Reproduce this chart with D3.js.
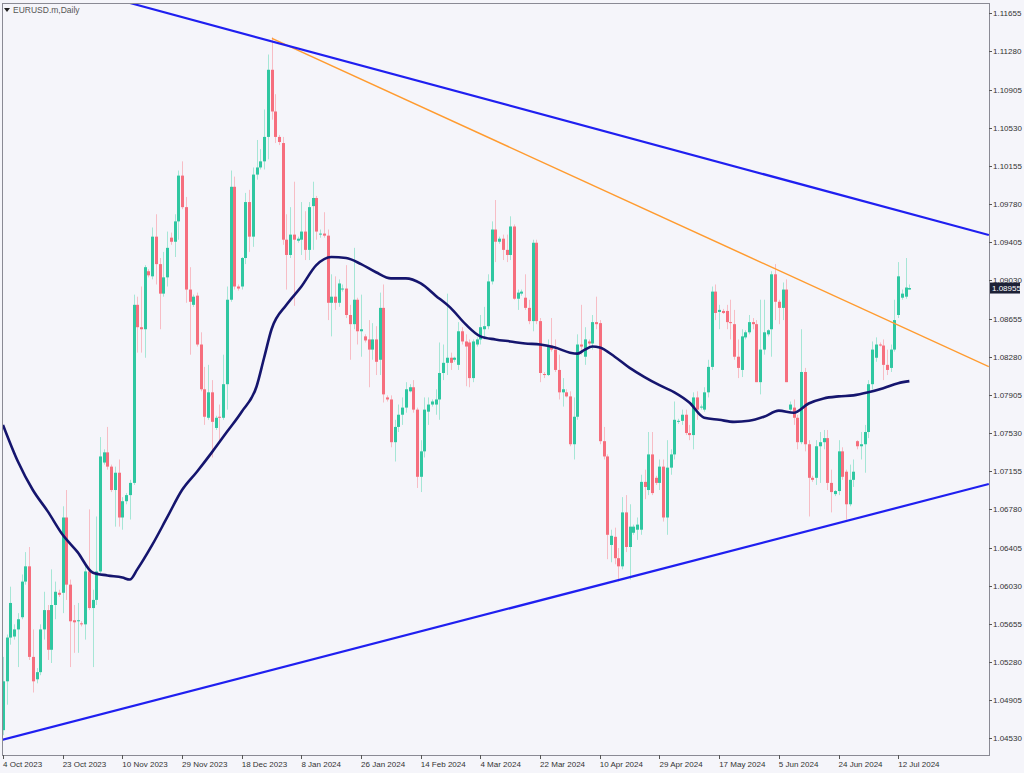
<!DOCTYPE html>
<html><head><meta charset="utf-8">
<script src="https://cdn.jsdelivr.net/npm/d3@7"></script>
<style>html,body{margin:0;padding:0;background:#f5f5fa;}svg{display:block}</style>
</head><body>
<svg id="chart" width="1024" height="773"></svg>
<script>
// ---- Data ----
const opens=[1.0461,1.0509,1.0552,1.0553,1.0560,1.0572,1.0607,1.0622,1.0533,1.0511,
1.0518,1.0560,1.0579,1.0540,1.0584,1.0596,1.0596,1.0670,1.0604,1.0569,
1.0568,1.0566,1.0565,1.0617,1.0581,1.0589,1.0617,1.0724,1.0734,1.0720,
1.0697,1.0714,1.0670,1.0686,1.0692,1.0704,1.0879,1.0857,1.0855,1.0912,
1.0907,1.0946,1.0919,1.0890,1.0906,1.0945,1.0941,1.0961,1.1006,1.0975,
1.0894,1.0879,1.0888,1.0840,1.0796,1.0768,1.0793,1.0758,1.0769,1.0768,
1.0801,1.0884,1.0995,1.0897,1.0897,1.0925,1.0980,1.0946,1.1007,1.1014,
1.1020,1.1044,1.1110,1.1069,1.1044,1.1038,1.0943,1.0928,1.0948,1.0942,
1.0943,1.0951,1.0933,1.0976,1.0984,1.0949,1.0949,1.0947,1.0881,1.0887,
1.0881,1.0895,1.0895,1.0869,1.0860,1.0884,1.0853,1.0848,1.0845,1.0835,
1.0845,1.0825,1.0876,1.0788,1.0786,1.0744,1.0759,1.0771,1.0778,1.0794,
1.0798,1.0776,1.0710,1.0735,1.0774,1.0781,1.0781,1.0786,1.0812,1.0822,
1.0827,1.0825,1.0820,1.0853,1.0843,1.0842,1.0807,1.0840,1.0845,1.0855,
1.0858,1.0902,1.0953,1.0941,1.0944,1.0933,1.0928,1.0956,1.0885,1.0890,
1.0886,1.0876,1.0863,1.0940,1.0863,1.0811,1.0810,1.0839,1.0835,1.0815,
1.0793,1.0793,1.0789,1.0742,1.0769,1.0840,1.0828,1.0843,1.0841,1.0862,
1.0861,1.0745,1.0730,1.0643,1.0651,1.0630,1.0622,1.0675,1.0641,1.0655,
1.0658,1.0658,1.0705,1.0697,1.0732,1.0709,1.0704,1.0720,1.0670,1.0719,
1.0732,1.0764,1.0765,1.0771,1.0753,1.0751,1.0788,1.0778,1.0776,1.0793,
1.0818,1.0892,1.0872,1.0873,1.0873,1.0862,1.0860,1.0828,1.0815,1.0847,
1.0852,1.0862,1.0860,1.0803,1.0835,1.0850,1.0855,1.0909,1.0882,1.0876,
1.0894,1.0776,1.0778,1.0768,1.0744,1.0813,1.0742,1.0709,1.0709,1.0740,
1.0744,1.0748,1.0704,1.0693,1.0696,1.0735,1.0715,1.0683,1.0707,1.0745,
1.0740,1.0742,1.0754,1.0801,1.0827,1.0840,1.0839,1.0820,1.0817,1.0835,
1.0869,1.0886,1.0887,1.0894];
const highs=[1.0533,1.0555,1.0602,1.0565,1.0576,1.0614,1.0636,1.0641,1.0560,1.0522,
1.0565,1.0597,1.0584,1.0619,1.0607,1.0599,1.0681,1.0697,1.0609,1.0584,
1.0586,1.0568,1.0622,1.0678,1.0599,1.0671,1.0749,1.0737,1.0759,1.0722,
1.0720,1.0727,1.0690,1.0694,1.0707,1.0889,1.0887,1.0897,1.0918,1.0914,
1.0955,1.0968,1.0925,1.0931,1.0951,1.0950,1.0968,1.1011,1.1020,1.0985,
1.0916,1.0889,1.0891,1.0852,1.0818,1.0820,1.0805,1.0770,1.0781,1.0830,
1.0897,1.1011,1.1005,1.0899,1.0926,1.0989,1.0992,1.1014,1.1041,1.1032,
1.1071,1.1125,1.1142,1.1086,1.1046,1.1044,1.0968,1.0975,1.1000,1.0946,
1.0980,1.0971,1.0980,1.1000,1.0986,1.0953,1.0970,1.0953,1.0909,1.0907,
1.0904,1.0899,1.0918,1.0879,1.0935,1.0886,1.0889,1.0850,1.0864,1.0861,
1.0858,1.0891,1.0899,1.0790,1.0790,1.0766,1.0781,1.0788,1.0803,1.0801,
1.0805,1.0778,1.0746,1.0788,1.0788,1.0786,1.0796,1.0842,1.0840,1.0890,
1.0832,1.0828,1.0862,1.0857,1.0850,1.0845,1.0845,1.0847,1.0869,1.0877,
1.0909,1.0961,1.0982,1.0946,1.0948,1.0948,1.0966,1.0958,1.0894,1.0894,
1.0909,1.0884,1.0943,1.0943,1.0866,1.0813,1.0845,1.0866,1.0845,1.0830,
1.0807,1.0796,1.0794,1.0788,1.0850,1.0879,1.0857,1.0845,1.0869,1.0887,
1.0864,1.0759,1.0732,1.0658,1.0660,1.0640,1.0690,1.0692,1.0683,1.0663,
1.0670,1.0712,1.0717,1.0754,1.0754,1.0711,1.0727,1.0727,1.0746,1.0737,
1.0784,1.0767,1.0776,1.0776,1.0761,1.0793,1.0794,1.0781,1.0798,1.0825,
1.0897,1.0899,1.0879,1.0875,1.0879,1.0884,1.0874,1.0845,1.0855,1.0854,
1.0869,1.0866,1.0864,1.0884,1.0884,1.0855,1.0912,1.0919,1.0884,1.0901,
1.0904,1.0784,1.0786,1.0771,1.0855,1.0817,1.0746,1.0711,1.0746,1.0754,
1.0756,1.0756,1.0717,1.0697,1.0746,1.0739,1.0717,1.0722,1.0727,1.0746,
1.0754,1.0761,1.0805,1.0843,1.0847,1.0842,1.0845,1.0835,1.0840,1.0884,
1.0921,1.0894,1.0925,1.0899];
const lows=[1.0456,1.0486,1.0545,1.0550,1.0523,1.0570,1.0604,1.0530,1.0498,1.0507,
1.0515,1.0550,1.0530,1.0527,1.0570,1.0592,1.0576,1.0589,1.0523,1.0537,
1.0537,1.0563,1.0550,1.0579,1.0523,1.0584,1.0614,1.0722,1.0717,1.0695,
1.0661,1.0661,1.0658,1.0683,1.0668,1.0702,1.0832,1.0832,1.0827,1.0906,
1.0904,1.0899,1.0855,1.0887,1.0897,1.0938,1.0926,1.0943,1.0973,1.0881,
1.0830,1.0877,1.0838,1.0794,1.0761,1.0766,1.0729,1.0756,1.0744,1.0766,
1.0776,1.0882,1.0894,1.0893,1.0894,1.0919,1.0931,1.0936,1.1002,1.1012,
1.1012,1.1022,1.1061,1.1038,1.1036,1.0938,1.0894,1.0925,1.0878,1.0940,
1.0928,1.0923,1.0923,1.0933,1.0943,1.0945,1.0945,1.0864,1.0848,1.0874,
1.0877,1.0892,1.0866,1.0825,1.0855,1.0840,1.0828,1.0842,1.0798,1.0825,
1.0810,1.0810,1.0783,1.0784,1.0739,1.0725,1.0754,1.0761,1.0773,1.0793,
1.0773,1.0699,1.0695,1.0729,1.0761,1.0779,1.0771,1.0766,1.0805,1.0810,
1.0815,1.0823,1.0815,1.0840,1.0799,1.0798,1.0803,1.0838,1.0840,1.0845,
1.0855,1.0899,1.0921,1.0939,1.0923,1.0921,1.0923,1.0884,1.0874,1.0888,
1.0874,1.0860,1.0853,1.0860,1.0803,1.0807,1.0809,1.0833,1.0813,1.0786,
1.0779,1.0788,1.0740,1.0727,1.0766,1.0830,1.0820,1.0839,1.0835,1.0855,
1.0742,1.0727,1.0629,1.0626,1.0624,1.0607,1.0619,1.0636,1.0609,1.0653,
1.0648,1.0653,1.0688,1.0692,1.0692,1.0702,1.0697,1.0666,1.0653,1.0712,
1.0727,1.0762,1.0761,1.0751,1.0746,1.0737,1.0766,1.0776,1.0774,1.0788,
1.0815,1.0864,1.0855,1.0870,1.0855,1.0845,1.0825,1.0807,1.0808,1.0845,
1.0850,1.0855,1.0803,1.0791,1.0830,1.0848,1.0828,1.0864,1.0860,1.0864,
1.0803,1.0774,1.0761,1.0737,1.0742,1.0735,1.0671,1.0705,1.0702,1.0704,
1.0737,1.0697,1.0675,1.0691,1.0692,1.0707,1.0668,1.0681,1.0700,1.0737,
1.0727,1.0714,1.0748,1.0796,1.0823,1.0838,1.0805,1.0810,1.0813,1.0833,
1.0866,1.0884,1.0885,1.0894];
const closes=[1.0509,1.0552,1.0586,1.0560,1.0570,1.0607,1.0622,1.0533,1.0509,1.0518,
1.0560,1.0579,1.0540,1.0584,1.0597,1.0594,1.0670,1.0604,1.0568,1.0567,
1.0569,1.0565,1.0617,1.0581,1.0589,1.0617,1.0730,1.0734,1.0720,1.0697,
1.0714,1.0670,1.0686,1.0692,1.0704,1.0879,1.0857,1.0855,1.0916,1.0908,
1.0946,1.0919,1.0890,1.0906,1.0935,1.0941,1.0961,1.1006,1.0975,1.0894,
1.0882,1.0887,1.0840,1.0796,1.0769,1.0793,1.0764,1.0768,1.0768,1.0801,
1.0884,1.0995,1.0897,1.0895,1.0925,1.0980,1.0946,1.1007,1.1014,1.1020,
1.1044,1.1110,1.1069,1.1044,1.1039,1.0943,1.0928,1.0948,1.0943,1.0944,
1.0951,1.0933,1.0975,1.0984,1.0951,1.0949,1.0947,1.0881,1.0887,1.0881,
1.0900,1.0895,1.0869,1.0860,1.0884,1.0853,1.0855,1.0844,1.0835,1.0845,
1.0823,1.0876,1.0791,1.0786,1.0744,1.0759,1.0771,1.0778,1.0796,1.0798,
1.0776,1.0710,1.0735,1.0776,1.0781,1.0784,1.0786,1.0812,1.0822,1.0827,
1.0822,1.0827,1.0853,1.0843,1.0838,1.0807,1.0843,1.0845,1.0857,1.0858,
1.0902,1.0953,1.0941,1.0944,1.0933,1.0928,1.0956,1.0885,1.0891,1.0892,
1.0876,1.0863,1.0940,1.0863,1.0812,1.0810,1.0839,1.0835,1.0815,1.0793,
1.0796,1.0789,1.0742,1.0769,1.0840,1.0838,1.0845,1.0841,1.0862,1.0860,
1.0745,1.0730,1.0653,1.0652,1.0630,1.0622,1.0675,1.0641,1.0661,1.0661,
1.0663,1.0705,1.0700,1.0732,1.0694,1.0704,1.0720,1.0670,1.0719,1.0732,
1.0766,1.0765,1.0771,1.0753,1.0751,1.0788,1.0776,1.0779,1.0793,1.0818,
1.0892,1.0871,1.0874,1.0871,1.0862,1.0861,1.0828,1.0817,1.0848,1.0852,
1.0862,1.0860,1.0803,1.0835,1.0852,1.0854,1.0909,1.0882,1.0876,1.0894,
1.0803,1.0781,1.0768,1.0744,1.0813,1.0742,1.0709,1.0707,1.0740,1.0744,
1.0748,1.0704,1.0695,1.0696,1.0735,1.0710,1.0683,1.0707,1.0715,1.0740,
1.0742,1.0754,1.0801,1.0835,1.0840,1.0839,1.0820,1.0815,1.0835,1.0864,
1.0907,1.0890,1.0896,1.08955];

// Moving average, read at sampled bars
const maIndex=[0,4,8,12,16,20,24,28,32,34,36,40,44,48,52,56,60,64,68,70,72,76,80,84,88,92,96,100,104,108,112,116,120,124,128,132,136,140,144,148,152,154,156,158,160,164,168,172,176,180,184,188,192,196,200,204,208,212,216,220,224,228,232,236,240,243];
const maValues=[1.0761,1.0725,1.0697,1.0676,1.0653,1.0636,1.0616,1.0613,1.0611,1.0609,1.0619,1.0643,1.0670,1.0697,1.0715,1.0734,1.0754,1.0774,1.0799,1.0827,1.0855,1.0879,1.0897,1.0918,1.0926,1.0925,1.0919,1.0911,1.0905,1.0905,1.0900,1.0888,1.0876,1.0860,1.0848,1.0845,1.0843,1.0841,1.0840,1.0837,1.0832,1.0831,1.0835,1.0838,1.0837,1.0828,1.0817,1.0808,1.0800,1.0793,1.0783,1.0768,1.0766,1.0764,1.0765,1.0769,1.0775,1.0773,1.0782,1.0787,1.0789,1.0790,1.0793,1.0797,1.0802,1.0804];

// Trend lines: [barIndex, price] anchor pairs
const upperTrend=[[34.05,1.11756],[264.3,1.09476]];
const lowerTrend=[[-0.3,1.04513],[264.3,1.07029]];
const orangeTrend=[[72.1,1.11409],[264.3,1.08182]];

const priceTicks=[1.11655,1.11280,1.10905,1.10530,1.10155,1.09780,1.09405,1.09030,1.08655,1.08280,1.07905,1.07530,1.07155,1.06780,1.06405,1.06030,1.05655,1.05280,1.04905,1.04530];
const dateTickIndex=[0,16,32,48,64,80,96,112,128,144,160,176,192,208,224,240];
const dateTickLabels=["4 Oct 2023","23 Oct 2023","10 Nov 2023","29 Nov 2023","18 Dec 2023","8 Jan 2024","26 Jan 2024","14 Feb 2024","4 Mar 2024","22 Mar 2024","10 Apr 2024","29 Apr 2024","17 May 2024","5 Jun 2024","24 Jun 2024","12 Jul 2024"];
const currentPrice=1.08955;
const title="EURUSD.m,Daily";

// ---- Drawing ----
const L=2,R=989,T=3,B=755;
const svg=d3.select("#chart");
const x=d3.scaleLinear().domain([0,240]).range([3,898.2]);
const y=d3.scaleLinear().domain([1.04530,1.11655]).range([738.3,13.3]);
const font="'Liberation Sans Narrow','Liberation Sans',Arial,sans-serif";

svg.append("rect").attr("width",1024).attr("height",773).attr("fill","#f5f5fa");
svg.append("defs").append("clipPath").attr("id","plot")
  .append("rect").attr("x",L).attr("y",T).attr("width",R-L).attr("height",B-T);

const g=svg.append("g").attr("clip-path","url(#plot)");

const bars=d3.range(opens.length).map(i=>({i,o:opens[i],h:highs[i],l:lows[i],c:closes[i]}));
const up="#2fc7a1", dn="#f66e7d", upW="#a6e6d6", dnW="#f7bdc5";

g.selectAll("line.wick").data(bars).join("line").attr("class","wick")
  .attr("x1",d=>Math.round(x(d.i))+0.5).attr("x2",d=>Math.round(x(d.i))+0.5)
  .attr("y1",d=>y(d.h)).attr("y2",d=>y(d.l))
  .attr("stroke",d=>d.c>=d.o?upW:dnW).attr("stroke-width",1);

g.selectAll("rect.body").data(bars).join("rect").attr("class","body")
  .attr("x",d=>Math.round(x(d.i))-1).attr("width",3)
  .attr("y",d=>Math.min(y(d.o),y(d.c)))
  .attr("height",d=>Math.max(1,Math.abs(y(d.o)-y(d.c))))
  .attr("fill",d=>d.c>=d.o?up:dn);

// moving average
const ma=maIndex.map((k,j)=>[k,maValues[j]]);
g.append("path").datum(ma)
  .attr("d",d3.line().x(d=>x(d[0])).y(d=>y(d[1])).curve(d3.curveMonotoneX))
  .attr("fill","none").attr("stroke","#15156e").attr("stroke-width",2.6).attr("stroke-linejoin","round");

function trend(pts,color,w){
  g.append("line").attr("x1",x(pts[0][0])).attr("y1",y(pts[0][1]))
   .attr("x2",x(pts[1][0])).attr("y2",y(pts[1][1]))
   .attr("stroke",color).attr("stroke-width",w);
}
trend(orangeTrend,"#ff9b2f",1.5);
trend(upperTrend,"#1f1ff0",2.2);
trend(lowerTrend,"#1f1ff0",2.2);

// frame
svg.append("rect").attr("x",L+0.5).attr("y",T+0.5).attr("width",R-L).attr("height",B-T)
  .attr("fill","none").attr("stroke","#8a8a94").attr("stroke-width",1);

// right price axis
const pa=svg.append("g");
pa.selectAll("line").data(priceTicks).join("line")
  .attr("x1",R).attr("x2",R+3).attr("y1",d=>Math.round(y(d))+0.5).attr("y2",d=>Math.round(y(d))+0.5)
  .attr("stroke","#555");
pa.selectAll("text").data(priceTicks).join("text")
  .attr("x",R+4).attr("y",d=>y(d)+3).text(d=>d.toFixed(5))
  .attr("font-family",font).attr("font-size",8).attr("fill","#333");

// current price label
const cy=y(currentPrice);
svg.append("rect").attr("x",R+1).attr("y",cy-5.5).attr("width",30).attr("height",11).attr("fill","#1d2136");
svg.append("text").attr("x",R+3).attr("y",cy+3).text(currentPrice.toFixed(5))
  .attr("font-family",font).attr("font-size",8).attr("fill","#fff");

// bottom date axis
const da=svg.append("g");
da.selectAll("line").data(dateTickIndex).join("line")
  .attr("x1",d=>Math.round(x(d))+0.5).attr("x2",d=>Math.round(x(d))+0.5).attr("y1",B).attr("y2",B+4)
  .attr("stroke","#555");
da.selectAll("text").data(dateTickIndex).join("text")
  .attr("x",d=>Math.max(2,x(d))).attr("y",B+12).text((d,j)=>dateTickLabels[j])
  .attr("font-family",font).attr("font-size",8).attr("fill","#333");

// title
svg.append("path").attr("d","M4,8 L10,8 L7,12 Z").attr("fill","#222");
svg.append("text").attr("x",13).attr("y",13).text(title)
  .attr("font-family",font).attr("font-size",8.5).attr("fill","#555");
</script>
</body></html>
